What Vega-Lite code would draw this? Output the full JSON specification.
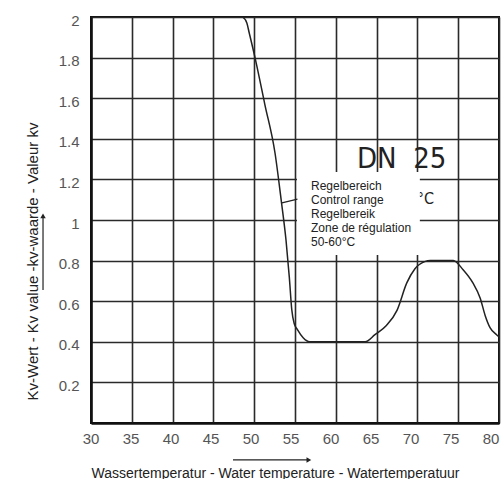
{
  "$schema": "https://vega.github.io/schema/vega-lite/v6.json",
  "autosize": {"type": "none"},
  "width": 408,
  "height": 406,
  "padding": {"left": 91, "top": 17, "right": 2, "bottom": 56},
  "background": "white",
  "config": {
    "view": {"stroke": "#111", "strokeWidth": 2},
    "axis": {
      "grid": true, "gridColor": "#2a2a2a", "gridWidth": 1.6, "gridOpacity": 1,
      "ticks": false, "domainColor": "#111", "domainWidth": 2.5,
      "labelFont": "Liberation Sans", "labelFontSize": 15, "labelColor": "#555",
      "titleFont": "Liberation Sans", "titleColor": "#222", "titleFontWeight": "normal"
    }
  },
  "datasets": {
    "curve": [
      {"x": 48.6, "y": 2.0}, {"x": 49.1, "y": 1.97}, {"x": 49.4, "y": 1.92}, {"x": 50.1, "y": 1.8},
      {"x": 51.3, "y": 1.57}, {"x": 52.55, "y": 1.33}, {"x": 53.3, "y": 1.1}, {"x": 53.9, "y": 0.9},
      {"x": 54.3, "y": 0.72}, {"x": 54.6, "y": 0.56}, {"x": 54.9, "y": 0.49}, {"x": 55.3, "y": 0.46},
      {"x": 56.0, "y": 0.42}, {"x": 56.8, "y": 0.4}, {"x": 63.6, "y": 0.4}, {"x": 64.8, "y": 0.435},
      {"x": 66.2, "y": 0.48}, {"x": 67.5, "y": 0.555}, {"x": 68.7, "y": 0.69}, {"x": 69.7, "y": 0.76},
      {"x": 70.9, "y": 0.795}, {"x": 71.6, "y": 0.8}, {"x": 74.4, "y": 0.8}, {"x": 75.6, "y": 0.755},
      {"x": 76.8, "y": 0.69}, {"x": 77.7, "y": 0.615}, {"x": 78.3, "y": 0.53}, {"x": 78.9, "y": 0.47},
      {"x": 79.7, "y": 0.435}, {"x": 80.0, "y": 0.425}
    ]
  },
  "layer": [
    {
      "data": {"name": "curve"},
      "mark": {"type": "line", "color": "#222", "strokeWidth": 1.5, "interpolate": "monotone", "clip": true},
      "encoding": {
        "x": {"field": "x", "type": "quantitative",
          "scale": {"domain": [30, 80], "nice": false, "zero": false},
          "axis": {"values": [30, 35, 40, 45, 50, 55, 60, 65, 70, 75, 80],
            "title": "Wassertemperatur - Water temperature - Watertemperatuur",
            "titleFontSize": 14, "titleX": 184, "titleY": 54, "titleBaseline": "alphabetic", "titleAlign": "center",
            "labelPadding": 8, "labelOffset": {"expr": "-0.5-(datum.value-30)*0.16"}, "labelFlush": false}},
        "y": {"field": "y", "type": "quantitative",
          "scale": {"domain": [0, 2], "nice": false},
          "axis": {"values": [0.2, 0.4, 0.6, 0.8, 1, 1.2, 1.4, 1.6, 1.8, 2], "format": "~g",
            "title": "Kv-Wert - Kv value -kv-waarde - Valeur kv",
            "titleFontSize": 15, "titleX": -54, "titleY": 244, "titleBaseline": "alphabetic", "titleAlign": "center", "titleAngle": 270,
            "labelPadding": 12, "labelOffset": 3, "labelFlush": false}}
      }
    },
    {
      "data": {"values": [{"x": 72.03, "y": 1.079, "label": "0°C"}]},
      "mark": {"type": "text", "align": "right", "baseline": "alphabetic", "font": "Liberation Sans Narrow, DejaVu Sans Condensed, Roboto Condensed, Liberation Sans, sans-serif", "fontSize": 16, "color": "#222"},
      "encoding": {"x": {"field": "x", "type": "quantitative"}, "y": {"field": "y", "type": "quantitative"}, "text": {"field": "label"}}
    },
    {
      "data": {"values": [{"x": 55.24, "x2": 70.3, "y": 0.828, "y2": 1.236}]},
      "mark": {"type": "rect", "fill": "white", "stroke": null},
      "encoding": {"x": {"field": "x", "type": "quantitative"}, "x2": {"field": "x2"}, "y": {"field": "y", "type": "quantitative"}, "y2": {"field": "y2"}}
    },
    {
      "data": {"values": [{"x": 56.96, "y": 1.148, "label": "Regelbereich\nControl range\nRegelbereik\nZone de régulation\n50-60°C"}]},
      "mark": {"type": "text", "align": "left", "baseline": "alphabetic", "font": "Liberation Sans", "fontSize": 12, "lineHeight": 14, "lineBreak": "\n", "color": "#222"},
      "encoding": {"x": {"field": "x", "type": "quantitative"}, "y": {"field": "y", "type": "quantitative"}, "text": {"field": "label"}}
    },
    {
      "data": {"values": [{"x": 62.6, "y": 1.256, "label": "DN\u00a0 25"}]},
      "mark": {"type": "text", "align": "left", "baseline": "alphabetic", "font": "Liberation Sans Narrow, DejaVu Sans Condensed, Roboto Condensed, Liberation Sans, sans-serif", "fontSize": 29, "color": "#222"},
      "encoding": {"x": {"field": "x", "type": "quantitative"}, "y": {"field": "y", "type": "quantitative"}, "text": {"field": "label"}}
    },
    {
      "data": {"values": [
        {"x": 53.4, "y": 1.084, "x2": 55.3, "y2": 1.103},
        {"x": 24.12, "y": 0.655, "x2": 24.12, "y2": 1.02},
        {"x": 47.4, "y": -0.182, "x2": 56.7, "y2": -0.182}
      ]},
      "mark": {"type": "rule", "color": "#222", "strokeWidth": 1.2},
      "encoding": {"x": {"field": "x", "type": "quantitative"}, "y": {"field": "y", "type": "quantitative"}, "x2": {"field": "x2"}, "y2": {"field": "y2"}}
    },
    {
      "data": {"values": [
        {"x": 24.12, "y": 1.02, "shape": "triangle-up"},
        {"x": 56.7, "y": -0.182, "shape": "triangle-right"}
      ]},
      "mark": {"type": "point", "filled": true, "color": "#222", "size": 30, "opacity": 1},
      "encoding": {"x": {"field": "x", "type": "quantitative"}, "y": {"field": "y", "type": "quantitative"},
        "shape": {"field": "shape", "type": "nominal", "scale": null}}
    }
  ]
}
